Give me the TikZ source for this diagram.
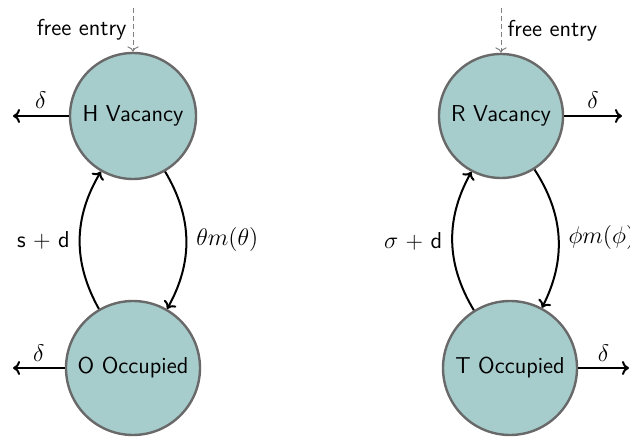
\documentclass[tikz,border=0pt]{standalone}
\usepackage{amsmath}
\usetikzlibrary{arrows.meta}
\definecolor{statefill}{RGB}{166,204,204}
\definecolor{stateline}{RGB}{105,105,105}
\begin{document}
\begin{tikzpicture}[x=0.5pt,y=-0.5pt,
  font=\fontsize{11.5}{13}\sffamily,
  state/.style={circle, draw=stateline, line width=1.2pt, fill=statefill, inner sep=0pt, text=black},
  flow/.style={-{To[length=3.5pt,width=7pt]}, line width=1pt, black},
  entry/.style={->, dash pattern=on 2.5pt off 1.5pt, gray, line width=0.5pt},
  lab/.style={text=black, inner sep=3pt},
  clab/.style={text=black, inner sep=4.5pt}
]
\useasboundingbox (0,0) rectangle (630,437);
\clip (0,0) rectangle (630,437);
\node[state, minimum size=63pt] (H) at (133,116) {H Vacancy};
\node[state, minimum size=67pt] (O) at (133,368) {O Occupied};
\node[state, minimum size=62pt] (R) at (501,116) {R Vacancy};
\node[state, minimum size=67pt] (T) at (510,368) {T Occupied};
% free entry
\coordinate (Hin) at (133,8);
\coordinate (Rin) at (501,8);
\draw[entry] (Hin) -- node[lab, left, pos=0.5] {free entry} (H);
\draw[entry] (Rin) -- node[lab, right, pos=0.5] {free entry} (R);
% delta exits
\coordinate (Hd) at (13,116);
\coordinate (Od) at (13,368);
\coordinate (Rd) at (622,116);
\coordinate (Td) at (629,368);
\draw[flow] (H) -- node[lab, above] {$\delta$} (Hd);
\draw[flow] (O) -- node[lab, above] {$\delta$} (Od);
\draw[flow] (R) -- node[lab, above] {$\delta$} (Rd);
\draw[flow] (T) -- node[lab, above] {$\delta$} (Td);
% transitions
\draw[flow] (O) to[bend left=30] node[clab, left] {s + d} (H);
\draw[flow] (H) to[bend left=30] node[clab, right] {$\theta m(\theta)$} (O);
\draw[flow] (T) to[bend left=30] node[clab, left] {$\sigma$ + d} (R);
\draw[flow] (R) to[bend left=30] node[clab, right] {$\phi m(\phi)$} (T);
\end{tikzpicture}
\end{document}
